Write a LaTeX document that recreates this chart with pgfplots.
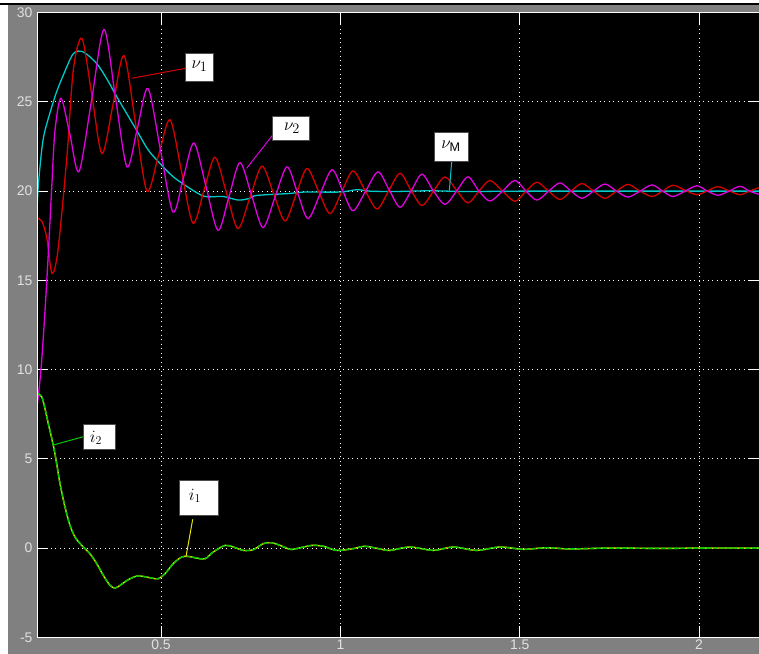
\documentclass[border=0pt]{standalone}
\usepackage{fontspec}
\setmainfont{Liberation Sans}
\usepackage{pgfplots}
\pgfplotsset{compat=1.18}
\definecolor{bgray}{RGB}{128,128,128}
\definecolor{tlgray}{RGB}{225,225,225}
\definecolor{vone}{RGB}{215,0,0}
\definecolor{vtwo}{RGB}{225,0,225}
\definecolor{vm}{RGB}{0,200,200}
\definecolor{itwo}{RGB}{0,200,0}
\definecolor{ione}{RGB}{230,230,0}
\begin{document}
\begin{tikzpicture}[x=1bp,y=1bp]
\useasboundingbox (0,0) rectangle (759,654);
\fill[white] (0,0) rectangle (759,654);
\fill[bgray] (8.3,0) rectangle (759,649);
\fill[black] (0,649) rectangle (759,650.7);
\begin{axis}[
  at={(37bp,16.7bp)}, anchor=south west,
  scale only axis, width=722bp, height=624.6bp,
  xmin=0.15417, xmax=2.167, ymin=-5, ymax=30,
  axis background/.style={fill=black},
  axis line style={draw=none},
  xtick={0.5,1,1.5,2}, xticklabels={0.5,1,1.5,2},
  ytick={-5,0,5,10,15,20,25,30},
  yticklabels={-5,0,5,10,15,20,25,30},
  grid=major,
  major grid style={white, line width=1bp, dash pattern=on 1.1bp off 3.4bp},
  tick style={white, line width=1bp},
  major tick length=11bp,
  tick label style={font=\fontsize{14}{14}\selectfont, text=tlgray},
  yticklabel style={xshift=-1bp},
  xticklabel style={yshift=1bp},
  /pgf/number format/assume math mode=true,
]
% v_M (cyan)
\addplot[vm, line width=1.3bp, smooth, tension=0.5] coordinates {
(0.1542,18.9) (0.1578,20.3) (0.1673,22.3) (0.1765,23.4) (0.2043,25.3) (0.2275,26.5)
(0.2554,27.7) (0.2832,27.8) (0.3206,27.15) (0.3485,26.3) (0.3764,25.3) (0.4042,24.35)
(0.4321,23.4) (0.4645,22.3) (0.4971,21.55) (0.5342,20.8) (0.5807,20.15) (0.6225,19.7)
(0.6735,19.7) (0.7154,19.5) (0.7480,19.6) (0.7666,19.76) (0.8595,19.87) (0.8966,19.95)
(0.9989,19.95) (1.0454,20.08) (1.0825,20.0) (1.1500,19.98) (1.2500,20.02) (1.3500,19.98)
(1.5000,20.0) (1.7000,20.0) (1.9000,20.0) (2.1700,20.0)
};
% v_1 (red)
\addplot[vone, line width=1.3bp, smooth, tension=0.5] coordinates {
(0.1542,18.5) (0.1681,18.3) (0.1812,17.4) (0.1960,15.4) (0.2127,16.7) (0.2378,22.0)
(0.2554,26.8) (0.2796,28.55) (0.3075,25.33) (0.3354,22.1) (0.3661,24.85) (0.3967,27.6)
(0.4288,23.8) (0.4608,20.0) (0.4929,22.0) (0.5250,24.0) (0.5571,21.1) (0.5891,18.2)
(0.6198,20.05) (0.6504,21.9) (0.6825,19.9) (0.7145,17.9) (0.7480,19.65) (0.7814,21.4)
(0.8135,19.87) (0.8455,18.33) (0.8762,19.8) (0.9069,21.27) (0.9390,20.0) (0.9710,18.74)
(1.0031,19.94) (1.0351,21.13) (1.0686,20.05) (1.1020,19.0) (1.1341,20.0) (1.1661,21.0)
(1.1968,20.05) (1.2275,19.2) (1.2596,20.0) (1.2916,20.8) (1.3237,20.05) (1.3557,19.34)
(1.3864,20.0) (1.4170,20.6) (1.4519,20.0) (1.4867,19.43) (1.5174,20.0) (1.5481,20.5)
(1.5802,20.0) (1.6122,19.53) (1.6429,20.0) (1.6735,20.43) (1.7056,20.0) (1.7376,19.6)
(1.7697,20.0) (1.8018,20.38) (1.8353,20.0) (1.8687,19.7) (1.8980,20.0) (1.9272,20.33)
(1.9607,20.05) (1.9941,19.8) (2.0234,20.02) (2.0527,20.25) (2.0834,20.02) (2.1140,19.8)
(2.1405,20.0) (2.1700,20.22)
};
% v_2 (magenta)
\addplot[vtwo, line width=1.3bp, smooth, tension=0.5] coordinates {
(0.1542,7.9) (0.1653,10.0) (0.1765,13.3) (0.1862,16.7) (0.1960,20.5) (0.2043,23.4)
(0.2211,25.2) (0.2462,23.15) (0.2713,21.1) (0.3062,25.08) (0.3410,29.06) (0.3731,25.21)
(0.4051,21.36) (0.4344,23.56) (0.4636,25.75) (0.4985,22.29) (0.5333,18.83) (0.5626,20.77)
(0.5919,22.7) (0.6254,20.25) (0.6588,17.8) (0.6895,19.7) (0.7201,21.6) (0.7522,19.78)
(0.7842,17.96) (0.8177,19.66) (0.8511,21.36) (0.8804,19.91) (0.9097,18.46) (0.9432,19.83)
(0.9766,21.2) (1.0059,20.05) (1.0351,18.9) (1.0700,19.99) (1.1048,21.08) (1.1355,20.09)
(1.1661,19.1) (1.1968,20.0) (1.2275,20.95) (1.2596,20.0) (1.2916,19.26) (1.3237,20.0)
(1.3557,20.8) (1.3864,20.0) (1.4170,19.45) (1.4519,20.0) (1.4867,20.6) (1.5174,20.0)
(1.5481,19.5) (1.5802,20.0) (1.6122,20.46) (1.6429,20.0) (1.6735,19.6) (1.7056,20.0)
(1.7376,20.4) (1.7697,20.0) (1.8018,19.67) (1.8353,20.0) (1.8687,20.35) (1.8980,20.0)
(1.9272,19.7) (1.9607,20.0) (1.9941,20.3) (2.0234,20.0) (2.0527,19.77) (2.0834,20.0)
(2.1140,20.27) (2.1405,20.0) (2.1700,19.8)
};
% i_1 (yellow)
\addplot[ione, line width=1.4bp, smooth, tension=0.5] coordinates {
(0.1542,8.69) (0.1673,8.47) (0.1765,7.81) (0.1857,6.97) (0.1996,5.76) (0.2091,4.73)
(0.2183,3.61) (0.2322,2.30) (0.2462,1.27) (0.2601,0.62) (0.2788,0.15) (0.3019,-0.32)
(0.3206,-0.87) (0.3390,-1.53) (0.3577,-2.09) (0.3716,-2.24) (0.3856,-2.09) (0.4087,-1.77)
(0.4321,-1.57) (0.4505,-1.59) (0.4739,-1.68) (0.4923,-1.72) (0.5110,-1.44) (0.5342,-0.87)
(0.5576,-0.50) (0.5760,-0.47) (0.5994,-0.56) (0.6225,-0.60) (0.6457,-0.22) (0.6783,0.15)
(0.7014,0.06) (0.7293,-0.13) (0.7572,-0.09) (0.7851,0.25) (0.8085,0.30) (0.8316,0.15)
(0.8595,-0.07) (0.8782,-0.03) (0.9200,0.15) (0.9523,0.10) (0.9802,-0.09) (0.9989,-0.13)
(1.0360,-0.03) (1.0686,0.10) (1.1104,-0.05) (1.1383,-0.13) (1.1940,0.06) (1.2590,-0.13)
(1.3147,0.06) (1.3800,-0.13) (1.4449,0.06) (1.5099,-0.07) (1.5751,0.02) (1.6401,-0.05)
(1.7500,0.0) (1.9000,-0.02) (2.0000,0.0) (2.1700,0.0)
};
% i_2 (green)
\addplot[itwo, line width=1.4bp, smooth, tension=0.5, dash pattern=on 5bp off 1.5bp] coordinates {
(0.1542,8.69) (0.1673,8.47) (0.1765,7.81) (0.1857,6.97) (0.1996,5.76) (0.2091,4.73)
(0.2183,3.61) (0.2322,2.30) (0.2462,1.27) (0.2601,0.62) (0.2788,0.15) (0.3019,-0.32)
(0.3206,-0.87) (0.3390,-1.53) (0.3577,-2.09) (0.3716,-2.24) (0.3856,-2.09) (0.4087,-1.77)
(0.4321,-1.57) (0.4505,-1.59) (0.4739,-1.68) (0.4923,-1.72) (0.5110,-1.44) (0.5342,-0.87)
(0.5576,-0.50) (0.5760,-0.47) (0.5994,-0.56) (0.6225,-0.60) (0.6457,-0.22) (0.6783,0.15)
(0.7014,0.06) (0.7293,-0.13) (0.7572,-0.09) (0.7851,0.25) (0.8085,0.30) (0.8316,0.15)
(0.8595,-0.07) (0.8782,-0.03) (0.9200,0.15) (0.9523,0.10) (0.9802,-0.09) (0.9989,-0.13)
(1.0360,-0.03) (1.0686,0.10) (1.1104,-0.05) (1.1383,-0.13) (1.1940,0.06) (1.2590,-0.13)
(1.3147,0.06) (1.3800,-0.13) (1.4449,0.06) (1.5099,-0.07) (1.5751,0.02) (1.6401,-0.05)
(1.7500,0.0) (1.9000,-0.02) (2.0000,0.0) (2.1700,0.0)
};
\end{axis}
% axis frame
\draw[white, line width=1bp] (760,16.7) -- (37,16.7) -- (37,641.3) -- (760,641.3);
% leader lines
\draw[vone, line width=1bp] (185.7,585.7) -- (131.7,575.7);
\draw[vtwo, line width=1bp] (272.7,519) -- (246.7,485.7);
\draw[vm, line width=1bp] (451.7,492.3) -- (449.3,463.3);
\draw[itwo, line width=1bp] (83.3,217.3) -- (53.3,209);
\draw[ione, line width=1bp] (192.7,134.7) -- (186,97.3);
% label boxes
\filldraw[fill=white, draw=black!70, line width=0.6bp] (185.7,600.7) rectangle (213.3,572.3);
\node[inner sep=0pt, font=\fontsize{19}{19}\selectfont] at (199.5,587.5) {$\nu_1$};
\filldraw[fill=white, draw=black!70, line width=0.6bp] (272.7,538) rectangle (309.3,514);
\node[inner sep=0pt, font=\fontsize{19}{19}\selectfont] at (292,526) {$\nu_2$};
\filldraw[fill=white, draw=black!70, line width=0.6bp] (434,521.3) rectangle (468.3,493);
\node[inner sep=0pt, font=\fontsize{18}{18}\selectfont] at (451,508) {$\nu_{\mathrm{M}}$};
\filldraw[fill=white, draw=black!70, line width=0.6bp] (83.3,229.7) rectangle (115,205);
\node[inner sep=0pt, font=\fontsize{18}{18}\selectfont] at (96,216) {$i_2$};
\filldraw[fill=white, draw=black!70, line width=0.6bp] (179.3,173.3) rectangle (218.3,138.3);
\node[inner sep=0pt, font=\fontsize{18}{18}\selectfont] at (195,158) {$i_1$};
\end{tikzpicture}
\end{document}
